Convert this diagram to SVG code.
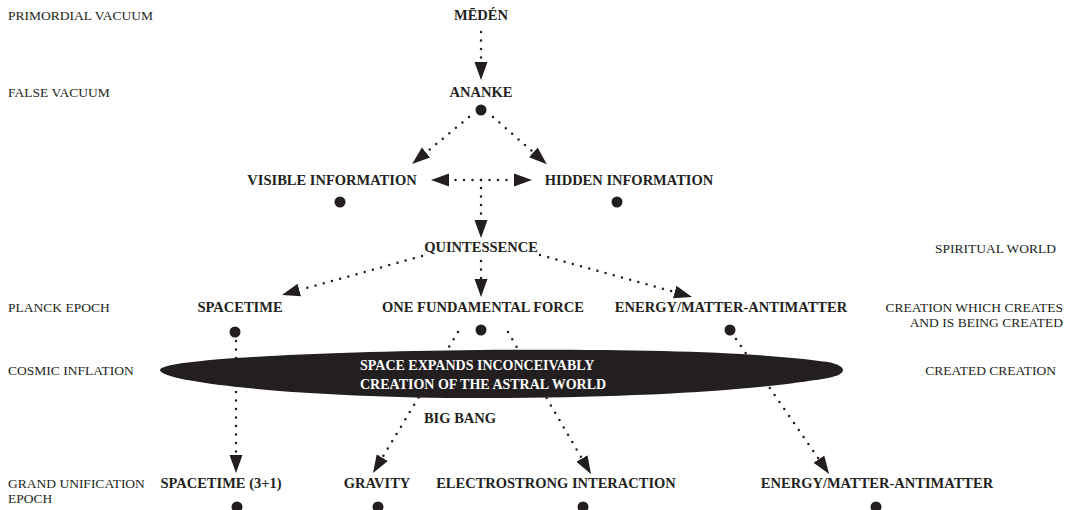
<svg xmlns="http://www.w3.org/2000/svg" width="1065" height="510" viewBox="0 0 1065 510">
<style>
.lbl{font-family:"Liberation Serif","Times New Roman",serif;font-weight:bold;font-size:14.5px;fill:#231f20;text-anchor:middle}
.side{font-family:"Liberation Serif","Times New Roman",serif;font-size:13.5px;fill:#231f20}
.end{text-anchor:end}
.inner{font-family:"Liberation Serif","Times New Roman",serif;font-weight:bold;font-size:14px;fill:#ffffff}
.dot{fill:#231f20}
.c{fill:none;stroke:#231f20;stroke-width:2.5;stroke-linecap:round;stroke-dasharray:0 8.5}
</style>
<defs>
<marker id="ah" markerUnits="userSpaceOnUse" markerWidth="20" markerHeight="16" viewBox="0 -8 20 16" refX="0" refY="0" orient="auto">
<path d="M0,-6.5 L18,0 L0,6.5 Z" fill="#231f20"/>
</marker>
</defs>
<rect width="1065" height="510" fill="#ffffff"/>

<g id="side-labels">
<text class="side" x="8" y="20">PRIMORDIAL VACUUM</text>
<text class="side" x="8" y="97">FALSE VACUUM</text>
<text class="side" x="8" y="312">PLANCK EPOCH</text>
<text class="side" x="8" y="375">COSMIC INFLATION</text>
<text class="side" x="8" y="488">GRAND UNIFICATION</text>
<text class="side" x="8" y="503">EPOCH</text>
<text class="side end" x="1056" y="253">SPIRITUAL WORLD</text>
<text class="side end" x="1063" y="312">CREATION WHICH CREATES</text>
<text class="side end" x="1063" y="327">AND IS BEING CREATED</text>
<text class="side end" x="1056" y="375">CREATED CREATION</text>
</g>

<g id="connectors">
<path class="c" d="M481,32 L481,62" marker-end="url(#ah)"/>
<path class="c" d="M469,117 L426,152.5" marker-end="url(#ah)"/>
<path class="c" d="M493,117 L533.3,152.3" marker-end="url(#ah)"/>
<path class="c" d="M481,180 L449,180" marker-end="url(#ah)"/>
<path class="c" d="M481,180 L514,180" marker-end="url(#ah)"/>
<path class="c" d="M481,188 L481,220" marker-end="url(#ah)"/>
<path class="c" d="M422,256 L299.3,290.1" marker-end="url(#ah)"/>
<path class="c" d="M481,261 L481,279" marker-end="url(#ah)"/>
<path class="c" d="M540,255 L674.7,292.1" marker-end="url(#ah)"/>
<path class="c" d="M236,341 L236,455" marker-end="url(#ah)"/>
<path class="c" d="M458,332 L382.3,457.6" marker-end="url(#ah)"/>
<path class="c" d="M508,332 L581.9,458.5" marker-end="url(#ah)"/>
<path class="c" d="M736,339 L818.9,459.1" marker-end="url(#ah)"/>
</g>

<g id="inflation">
<path d="M160,370 C160,360 300,352 480,350 C640,349 760,352 828,362 C848,366 848,374 828,378 C760,390 640,398 480,398 C300,398 160,382 160,370 Z" fill="#231f20"/>
<text class="inner" x="360" y="370">SPACE EXPANDS INCONCEIVABLY</text>
<text class="inner" x="360" y="389">CREATION OF THE ASTRAL WORLD</text>
</g>

<g id="meden"><text class="lbl" x="481" y="20">MĒDÉN</text></g>
<g id="ananke"><text class="lbl" x="481" y="97">ANANKE</text><circle class="dot" cx="481" cy="110" r="5.5"/></g>
<g id="visible-information"><text class="lbl" x="332" y="185">VISIBLE INFORMATION</text><circle class="dot" cx="340" cy="202" r="5.5"/></g>
<g id="hidden-information"><text class="lbl" x="629" y="185">HIDDEN INFORMATION</text><circle class="dot" cx="617" cy="202" r="5.5"/></g>
<g id="quintessence"><text class="lbl" x="481" y="252">QUINTESSENCE</text></g>
<g id="spacetime"><text class="lbl" x="240" y="312">SPACETIME</text><circle class="dot" cx="235" cy="332" r="5.5"/></g>
<g id="one-fundamental-force"><text class="lbl" x="483" y="312">ONE FUNDAMENTAL FORCE</text><circle class="dot" cx="481" cy="330" r="5.5"/></g>
<g id="energy-matter-1"><text class="lbl" x="731" y="312">ENERGY/MATTER-ANTIMATTER</text><circle class="dot" cx="730" cy="330" r="5.5"/></g>
<g id="big-bang"><text class="lbl" x="460" y="423">BIG BANG</text></g>
<g id="spacetime-3-1"><text class="lbl" x="221" y="488">SPACETIME (3+1)</text><circle class="dot" cx="237" cy="507" r="5.5"/></g>
<g id="gravity"><text class="lbl" x="377" y="488">GRAVITY</text><circle class="dot" cx="378" cy="507" r="5.5"/></g>
<g id="electrostrong"><text class="lbl" x="556" y="488">ELECTROSTRONG INTERACTION</text><circle class="dot" cx="583" cy="507" r="5.5"/></g>
<g id="energy-matter-2"><text class="lbl" x="877" y="488">ENERGY/MATTER-ANTIMATTER</text><circle class="dot" cx="876" cy="507" r="5.5"/></g>
</svg>
